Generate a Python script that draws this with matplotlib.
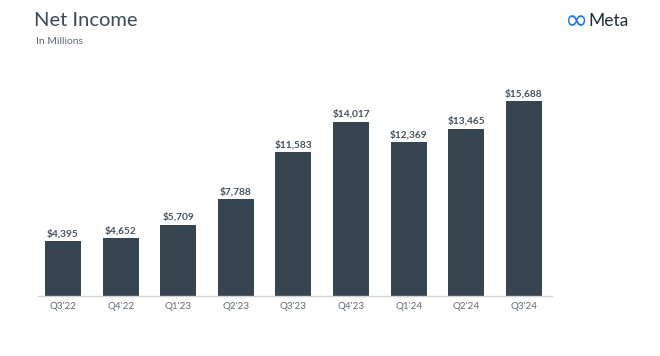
import matplotlib
matplotlib.use("Agg")
import matplotlib.pyplot as plt

quarters = ["Q3'22", "Q4'22", "Q1'23", "Q2'23", "Q3'23", "Q4'23", "Q1'24", "Q2'24", "Q3'24"]
net_income = [4395, 4652, 5709, 7788, 11583, 14017, 12369, 13465, 15688]

plt.rcParams['font.family'] = ['Lato', 'DejaVu Sans']

fig = plt.figure(figsize=(6.6, 3.56), dpi=100)
ax = fig.add_axes([38/660, 60/356, 514/660, 211/356])

bar_color = '#36454f'
x = list(range(len(quarters)))
ax.bar(x, net_income, width=0.625, color=bar_color)
for xi, v in zip(x, net_income):
    ax.text(xi, v + 250, f"${v:,}", ha='center', va='bottom', fontsize=7.3,
            fontweight='bold', color='#46525c')

ax.set_xlim(-0.434, 8.49)
ax.set_ylim(0, 17000)
ax.set_xticks(x)
ax.set_xticklabels(quarters, fontsize=7, color='#5f6a72')
ax.tick_params(axis='x', length=0, pad=4)
ax.set_yticks([])
for s in ['top', 'right', 'left']:
    ax.spines[s].set_visible(False)
ax.spines['bottom'].set_color('#cfd3d6')
ax.spines['bottom'].set_linewidth(1)

fig.text(34/660, 1 - 20/356, "Net Income", fontsize=14.5, color='#3d4a55', va='center', ha='left')
fig.text(36/660, 1 - 42/356, "In Millions", fontsize=7.5, color='#5f6a72', va='center', ha='left')

fig.text(577/660, 1 - 21/356, "\u221e", fontsize=20, color='#1877f2', va='center', ha='center',
         family=['DejaVu Sans'])
fig.text(588/660, 1 - 21/356, "Meta", fontsize=12.5, color='#1c2b33', va='center', ha='left')

fig.savefig("out.png", dpi=100)
